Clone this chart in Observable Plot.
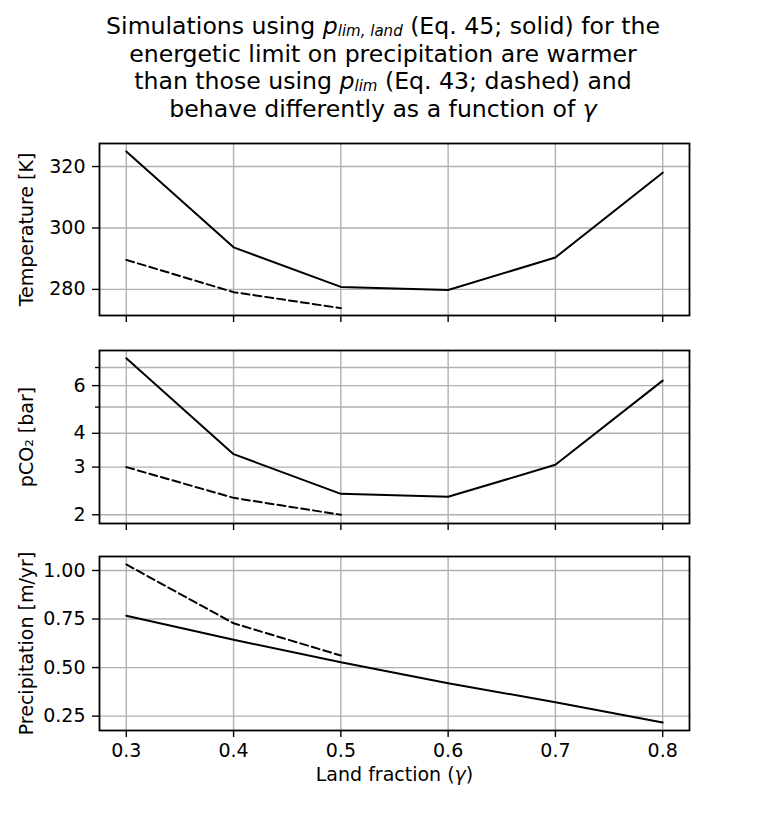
<!DOCTYPE html>
<html>
<head>
<meta charset="utf-8">
<script src="https://cdn.jsdelivr.net/npm/d3@7"></script>
<script src="https://cdn.jsdelivr.net/npm/@observablehq/plot@0.6"></script>
<style>
  html, body { margin: 0; padding: 0; background: #fff; }
  #fig { position: relative; width: 766px; height: 820px; font-family: "DejaVu Sans", sans-serif; color: #000; }
  #title { position: absolute; left: 0; top: 13px; width: 766px; text-align: center; font-size: 23.6px; line-height: 27.7px; }
  #title sub { font-size: 15px; vertical-align: -2px; line-height: 0; }
  .panel { position: absolute; left: 0; }
</style>
</head>
<body>
<div id="fig">
  <div id="title">Simulations using <i>p</i><sub><i>lim, land</i></sub> (Eq. 45; solid) for the<br>energetic limit on precipitation are warmer<br>than those using <i>p</i><sub><i>lim</i></sub> (Eq. 43; dashed) and<br>behave differently as a function of <i>γ</i></div>
  <div id="p1" class="panel" style="top:133px"></div>
  <div id="p2" class="panel" style="top:340px"></div>
  <div id="p3" class="panel" style="top:546px"></div>
</div>
<script>
// Land fraction (gamma)
const landFraction = [0.3, 0.4, 0.5, 0.6, 0.7, 0.8];
const landFractionDashed = [0.3, 0.4, 0.5];
// Temperature [K]
const tempSolid = [324.9, 293.7, 280.8, 279.8, 290.4, 318.0];
const tempDashed = [289.6, 279.1, 273.9];
// pCO2 [bar]
const pco2Solid = [7.57, 3.35, 2.39, 2.33, 3.06, 6.26];
const pco2Dashed = [3.0, 2.31, 2.0];
// Precipitation [m/yr]
const precipSolid = [0.767, 0.643, 0.527, 0.419, 0.322, 0.217];
const precipDashed = [1.031, 0.728, 0.562];

// ticks
const xTicks = [0.3, 0.4, 0.5, 0.6, 0.7, 0.8];
const tempTicks = [280, 300, 320];
const pco2Ticks = [2, 3, 4, 6];
const pco2Minor = [5, 7];
const precipTicks = [0.25, 0.5, 0.75, 1.0];

const W = 766, ML = 99, MR = 77;
const FS = 19;
const gridStyle = {stroke: "#b0b0b0", strokeOpacity: 1, strokeWidth: 1.4};
const lineSolid = {stroke: "black", strokeWidth: 2};
const lineDashed = {stroke: "black", strokeWidth: 2, strokeDasharray: "8,4"};

function rows(xs, ys) { return xs.map((x, i) => ({x, y: ys[i]})); }

function panel({yScale, yTicks, yGrid, yMinor, yLabel, yFormat, solid, dashed, height, mb, showX}) {
  const marks = [
    Plot.gridX(xTicks, gridStyle),
    Plot.gridY(yGrid, gridStyle),
    Plot.line(rows(landFraction, solid), {x: "x", y: "y", ...lineSolid}),
    Plot.line(rows(landFractionDashed, dashed), {x: "x", y: "y", ...lineDashed}),
    Plot.frame({stroke: "black", strokeWidth: 1.8}),
    Plot.axisY(yTicks, {tickSize: 7, tickPadding: 7, fontSize: FS, tickFormat: yFormat, strokeWidth: 1.4,
      label: yLabel, labelAnchor: "center", labelOffset: 80, labelArrow: "none"}),
    Plot.axisX(xTicks, {tickSize: 7, tickPadding: 6, fontSize: FS, strokeWidth: 1.4,
      tickFormat: showX ? (d => d.toFixed(1)) : (() => ""),
      label: showX ? "Land fraction (γ)" : null, labelAnchor: "center", labelOffset: 50, labelArrow: "none"})
  ];
  if (yMinor) marks.push(Plot.axisY(yMinor, {tickSize: 4, strokeWidth: 1.4, tickFormat: () => "", label: null}));
  return Plot.plot({
    width: W, height, marginLeft: ML, marginRight: MR, marginTop: 10, marginBottom: mb,
    style: {fontFamily: "DejaVu Sans, sans-serif", fontSize: FS + "px", color: "black", background: "white"},
    x: {type: "linear", domain: [0.275, 0.825]},
    y: yScale,
    marks
  });
}

const p1 = panel({
  yScale: {type: "linear", domain: [271.5, 327.5]},
  yTicks: tempTicks, yGrid: tempTicks, yLabel: "Temperature [K]", yFormat: d => String(d),
  solid: tempSolid, dashed: tempDashed, height: 196, mb: 14, showX: false
});
const p2 = panel({
  yScale: {type: "log", domain: [1.857, 8.09]},
  yTicks: pco2Ticks, yGrid: [2, 3, 4, 5, 6, 7], yMinor: pco2Minor, yLabel: "pCO₂ [bar]", yFormat: d => String(d),
  solid: pco2Solid, dashed: pco2Dashed, height: 197, mb: 14, showX: false
});
const p3 = panel({
  yScale: {type: "linear", domain: [0.176, 1.072]},
  yTicks: precipTicks, yGrid: precipTicks, yLabel: "Precipitation [m/yr]", yFormat: d => d.toFixed(2),
  solid: precipSolid, dashed: precipDashed, height: 254, mb: 70, showX: true
});
document.getElementById("p1").appendChild(p1);
document.getElementById("p2").appendChild(p2);
document.getElementById("p3").appendChild(p3);

// italic gamma in x label
d3.select(p3).selectAll("text").each(function() {
  if (this.textContent === "Land fraction (γ)") {
    this.innerHTML = 'Land fraction (<tspan font-style="italic">γ</tspan>)';
  }
});
</script>
</body>
</html>
